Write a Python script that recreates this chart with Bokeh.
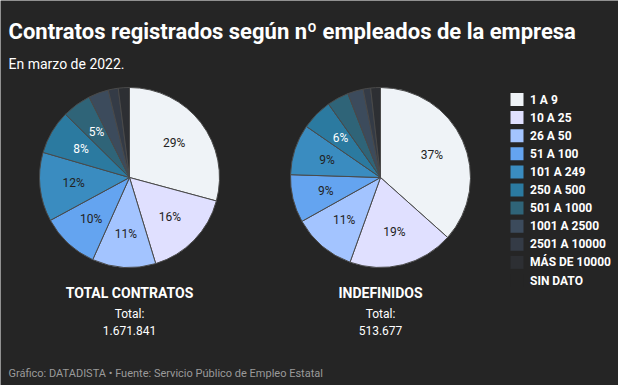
import math
from bokeh.plotting import figure
from bokeh.models import Range1d
from bokeh.core.properties import value
from bokeh.embed import file_html
from bokeh.resources import INLINE

categories = ["1 A 9", "10 A 25", "26 A 50", "51 A 100", "101 A 249", "250 A 500",
              "501 A 1000", "1001 A 2500", "2501 A 10000", "MÁS DE 10000", "SIN DATO"]
colors = ["#eff3f7", "#e0e0ff", "#a3c4ff", "#64a4f0", "#3a8cc0", "#2b7aa0",
          "#2f6478", "#3c4b5c", "#343b46", "#2d2f33", "#252525"]
total_pct = [29.2, 16.1, 11.4, 10.4, 12.4, 7.9, 5.2, 3.6, 1.8, 2.0, 0.0]
indef_pct = [36.6, 18.9, 11.4, 8.6, 9.1, 5.6, 3.9, 2.8, 1.35, 1.75, 0.0]
pie_titles = ["TOTAL CONTRATOS", "INDEFINIDOS"]
pie_totals = ["1.671.841", "513.677"]
title = "Contratos registrados según nº empleados de la empresa"
subtitle = "En marzo de 2022."
footer = "Gráfico: DATADISTA • Fuente: Servicio Público de Empleo Estatal"

W, H = 618, 385
BG = "#252525"
FONT = value("Roboto")

def X(ox):
    return ox

def Y(oy):
    return H - oy

p = figure(width=W, height=H, x_range=Range1d(0, W), y_range=Range1d(0, H),
           output_backend="svg", toolbar_location=None, min_border=0)
p.axis.visible = False
p.grid.visible = False
p.outline_line_color = None
p.background_fill_color = BG
p.border_fill_color = BG

centers = [(129, 177), (380, 177)]
R = 90
dark_text = set(range(5))

for (cx, cy), vals, ttl, tot in zip(centers, [total_pct, indef_pct], pie_titles, pie_totals):
    s = sum(vals)
    cum = 0.0
    starts, ends, cols, lx, ly, lt, lc = [], [], [], [], [], [], []
    for i, v in enumerate(vals):
        a0 = cum / s
        cum += v
        a1 = cum / s
        if v <= 0:
            continue
        starts.append(math.pi / 2 - 2 * math.pi * a1)
        ends.append(math.pi / 2 - 2 * math.pi * a0)
        cols.append(colors[i])
        if v >= 4.5:
            mid = (a0 + a1) / 2 * 2 * math.pi
            lx.append(X(cx) + 0.625 * R * math.sin(mid))
            ly.append(Y(cy) + 0.625 * R * math.cos(mid))
            lt.append(f"{int(v + 0.5)}%")
            lc.append("#222222" if i in dark_text else "#ffffff")
    p.wedge(x=X(cx), y=Y(cy), radius=R, start_angle=starts, end_angle=ends,
            fill_color=cols, line_color="#4a4a4a", line_width=1)
    p.text(x=lx, y=ly, text=lt, text_color=lc, text_font=FONT, text_font_size="12px",
           text_align="center", text_baseline="middle")
    p.text(x=[X(cx)], y=[Y(292)], text=[ttl], text_color="#ffffff", text_font=FONT,
           text_font_size="14px", text_font_style="bold", text_align="center",
           text_baseline="alphabetic")
    p.text(x=[X(cx), X(cx)], y=[Y(313), Y(330)], text=["Total:", tot], text_color="#ffffff",
           text_font=FONT, text_font_size="12px", text_align="center",
           text_baseline="alphabetic")

# legend
ly0, dy = 99, 18.1
leg_y = [Y(ly0 + i * dy) for i in range(len(categories))]
p.rect(x=[X(516.5)] * len(categories), y=leg_y, width=13, height=13,
       fill_color=colors, line_color=None)
p.text(x=[X(529.5)] * len(categories), y=leg_y, text=categories, text_color="#ffffff",
       text_font=FONT, text_font_size="12px", text_font_style="bold",
       text_align="left", text_baseline="middle")

p.text(x=[X(8)], y=[Y(31)], text=[title], text_color="#ffffff", text_font=FONT,
       text_font_size="22px", text_font_style="bold", text_baseline="alphabetic")
p.text(x=[X(8)], y=[Y(63)], text=[subtitle], text_color="#ffffff", text_font=FONT,
       text_font_size="14px", text_baseline="alphabetic")
p.text(x=[X(8)], y=[Y(373)], text=[footer], text_color="#9a9a9a", text_font=FONT,
       text_font_size="11px", text_baseline="alphabetic")

open("out.html", "w").write(file_html(p, INLINE))
